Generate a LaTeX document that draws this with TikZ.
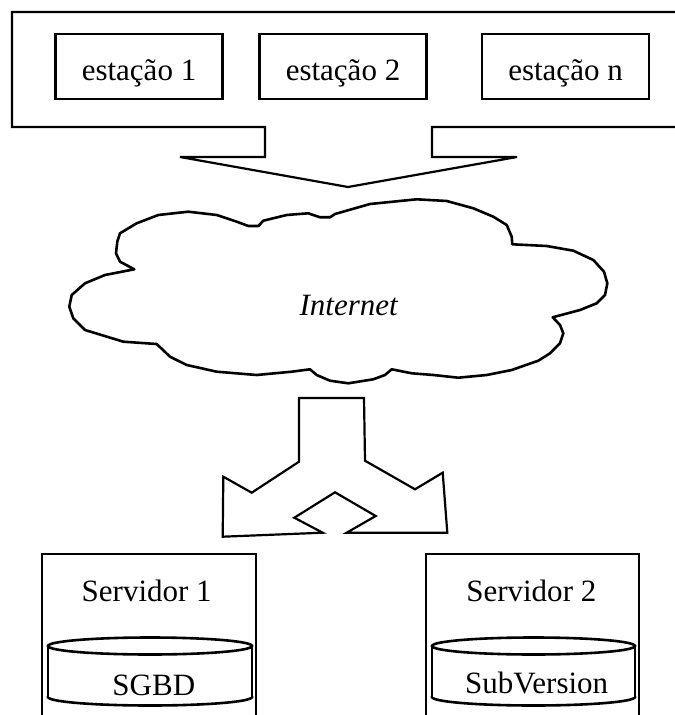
\documentclass[tikz,border=0pt]{standalone}
\usepackage{fontspec}
\setmainfont{Liberation Serif}
\usepackage{xcolor}

\tikzset{
	outline/.style={line width=1.1pt, line join=miter},
	station/.style={draw, line width=1.1pt, minimum width=83.5pt, minimum height=32.2pt, inner sep=0pt, text height=14.5pt, text depth=0pt, font=\fontsize{15.5}{18}\selectfont},
	label/.style={anchor=base, inner sep=0pt, font=\fontsize{15.5}{18}\selectfont}
}

\begin{document}
\begin{tikzpicture}[x=0.5pt,y=-0.5pt]
		\useasboundingbox (0,0) rectangle (674,715);
		
		\draw[outline] (690,12) -- (12,12) -- (12,127) -- (265,127) -- (265,157) -- (180,157) -- (348,187) -- (517,157) -- (432,157) -- (432,127) -- (690,127);
		\node[station] (st1) at (139,66.5){estação 1};
		\node[station] (st2) at (343,66.5){estação 2};
		\node[station] (stn) at (565.5,66.5){estação n};
		
		\draw[outline, line width=1.3pt, line join=round] (120,233.3) -- (136.7,223.3) -- (158.3,215) -- (188.3,211.7) -- (216.7,215) -- (236.7,221.7) -- (248.3,226) -- (258.3,226) -- (263.3,220.7) -- (286.7,215) -- (308.3,213.3) -- (320,217.3) -- (330,217.3) -- (335,214) -- (370,204) -- (416.7,199.3) -- (446.7,201) -- (473.3,208.3) -- (493.3,216.7) -- (506.7,225) -- (511.7,236.7) -- (512.3,244.3) -- (546.7,246) -- (573.3,250.7) -- (593.3,260) -- (604,271.7) -- (607.3,283.3) -- (605,295) -- (596.7,303.3) -- (580,310) -- (552.7,317.3) -- (560,325) -- (563.3,333.3) -- (560,343.3) -- (550,353.3) -- (538.3,360.7) -- (511.7,370) -- (486.7,375) -- (458.3,377.7) -- (433.3,375) -- (411.7,373.3) -- (391.7,369.3) -- (385,375) -- (373.3,379.3) -- (348.3,383.3) -- (330,380.7) -- (316.7,375) -- (310,369.3) -- (291.7,371.7) -- (256.7,375) -- (216.7,371.7) -- (186.7,365) -- (170,356.7) -- (156.7,344) -- (123.3,341.7) -- (85,330) -- (73.3,318.3) -- (69.3,306.7) -- (71.7,295) -- (85,283.3) -- (105,275) -- (134.3,269.3) -- (120,261.7) -- (116,253.3) -- (117.3,241.7) -- cycle;
		\node[label, font=\fontsize{15.5}{18}\selectfont\itshape] (net) at (348.7,315){Internet};
		
		\draw[outline] (299,398) -- (299,461.7) -- (251.7,492.7) -- (223.3,476.7) -- (222.7,536.7) -- (322.7,532.7) -- (294.3,517.7) -- (335,492.3) -- (375.7,516) -- (346.7,532.7) -- (447.3,532.7) -- (442.7,472.7) -- (415,489.3) -- (365,460.7) -- (364,398) -- cycle;
		
		\draw[outline] (42,554) rectangle (256,730);
		\draw[outline] (426,554) rectangle (639,730);
		\node[label] (srv1) at (146.7,601.7){Servidor 1};
		\node[label] (srv2) at (531.3,601){Servidor 2};
		
		\foreach \xa/\xb in {48/252,432/635}{
			\draw[outline, line width=1.3pt] ({(\xa+\xb)/2},697) ellipse [x radius={(\xb-\xa)/2}, y radius=8.5];
			\fill[white] (\xa,646) rectangle (\xb,697);
			\draw[outline, line width=1.3pt] (\xa,646) -- (\xa,697) (\xb,646) -- (\xb,697);
			\draw[outline, line width=1.3pt] ({(\xa+\xb)/2},646) ellipse [x radius={(\xb-\xa)/2}, y radius=8.5];
		}
		\node[label] (db) at (153.8,695){SGBD};
		\node[label] (svn) at (536.7,693){SubVersion};
	\end{tikzpicture}
\end{document}
